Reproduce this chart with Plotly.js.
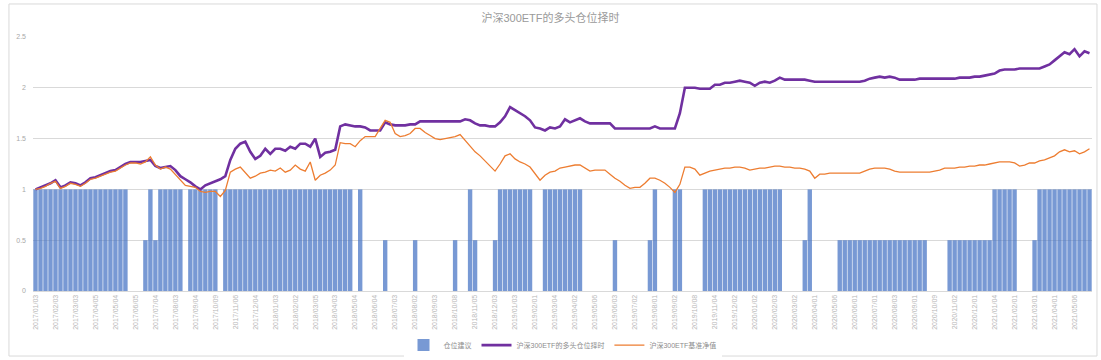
<!DOCTYPE html>
<html>
<head>
<meta charset="utf-8">
<script src="https://cdn.plot.ly/plotly-3.0.1.min.js"></script>
<style>html,body{margin:0;padding:0;background:#fff;}#chart{width:1101px;height:360px;}</style>
</head>
<body>
<div id="chart"></div>
<script>
// Tick labels (one every 4 observations)
var tickLabels = [
"2017/01/03","2017/02/03","2017/03/03","2017/04/05","2017/05/04","2017/06/05","2017/07/04","2017/08/03","2017/09/04","2017/10/09",
"2017/11/06","2017/12/04","2018/01/03","2018/02/02","2018/03/05","2018/04/03","2018/05/04","2018/06/04","2018/07/03","2018/08/02",
"2018/09/03","2018/10/08","2018/11/05","2018/12/03","2019/01/03","2019/02/01","2019/03/04","2019/04/02","2019/05/06","2019/06/03",
"2019/07/02","2019/08/01","2019/09/02","2019/10/08","2019/11/04","2019/12/02","2020/01/02","2020/02/03","2020/03/02","2020/04/01",
"2020/05/06","2020/06/01","2020/07/01","2020/08/03","2020/09/01","2020/10/09","2020/11/02","2020/12/01","2021/01/04","2021/02/01",
"2021/03/01","2021/04/01","2021/05/06"
];

var positionSuggestion = [
1,1,1,1,1,1,1,1,1,1,1,1,1,1,1,1,1,1,1,
0,0,0,0.5,1,0.5,1,1,1,1,1,0,1,1,1,1,1,1,0,
1,1,1,1,1,1,1,1,1,1,1,1,1,1,1,1,1,1,1,1,1,1,1,1,1,1,
0,1,0,0,0,0,0.5,0,0,0,0,0,0.5,0,0,0,0,0,0,0,0.5,0,0,1,0.5,0,0,0,0.5,
1,1,1,1,1,1,1,0,0,1,1,1,1,1,1,1,1,
0,0,0,0,0,0,0.5,0,0,0,0,0,0,0.5,1,0,0,0,1,1,0,0,0,0,
1,1,1,1,1,1,1,1,1,1,1,1,1,1,1,1,
0,0,0,0,0.5,1,0,0,0,0,0,
0.5,0.5,0.5,0.5,0.5,0.5,0.5,0.5,0.5,0.5,0.5,0.5,0.5,0.5,0.5,0.5,0.5,0.5,
0,0,0,0,0.5,0.5,0.5,0.5,0.5,0.5,0.5,0.5,0.5,
1,1,1,1,1,0,0,0,0.5,1,1,1,1,1,1,1,1,1,1,1
];

var strategyNav = [
1.00,1.02,1.04,1.06,1.09,1.02,1.04,1.07,1.06,1.04,1.07,1.11,1.12,1.14,1.16,1.18,1.19,1.22,1.25,1.27,
1.27,1.27,1.28,1.29,1.23,1.21,1.22,1.23,1.19,1.13,1.10,1.07,1.03,1.00,1.04,1.06,1.08,1.10,1.13,1.29,
1.40,1.45,1.47,1.37,1.30,1.33,1.40,1.35,1.40,1.40,1.38,1.42,1.40,1.45,1.45,1.42,1.50,1.32,1.36,1.37,
1.39,1.62,1.64,1.63,1.62,1.62,1.61,1.58,1.58,1.58,1.66,1.64,1.63,1.63,1.63,1.64,1.64,1.67,
1.67,1.67,1.67,1.67,1.67,1.67,1.67,1.67,
1.69,1.68,1.65,1.63,1.63,1.62,1.62,1.66,1.72,1.81,1.78,1.75,1.72,1.68,1.61,1.60,1.58,1.61,1.60,1.62,
1.69,1.66,1.68,1.70,1.67,
1.65,1.65,1.65,1.65,1.65,
1.60,1.60,1.60,1.60,1.60,1.60,1.60,1.60,
1.62,1.60,1.60,1.60,1.60,1.75,
2.00,2.00,2.00,1.99,1.99,1.99,
2.03,2.03,2.05,2.05,2.06,2.07,2.06,2.05,2.02,2.05,2.06,2.05,2.07,2.10,
2.08,2.08,2.08,2.08,2.08,2.07,
2.06,2.06,2.06,2.06,2.06,2.06,2.06,2.06,2.06,2.06,
2.07,2.09,2.10,2.11,2.10,2.11,2.10,
2.08,2.08,2.08,2.08,2.09,2.09,2.09,2.09,2.09,2.09,
2.09,2.09,2.10,2.10,2.10,2.11,2.11,2.12,2.13,2.14,2.17,2.18,
2.18,2.18,2.19,2.19,2.19,2.19,2.19,
2.21,2.23,2.27,2.31,2.35,2.33,2.38,2.31,2.36,2.34
];

var benchmarkNav = [
1.00,1.01,1.03,1.06,1.08,1.01,1.03,1.06,1.05,1.03,1.06,1.10,1.11,1.13,1.15,1.17,1.18,1.21,1.24,1.26,
1.26,1.25,1.27,1.32,1.24,1.20,1.22,1.20,1.15,1.09,1.04,1.03,1.02,0.98,0.97,0.98,0.98,0.93,0.99,1.17,
1.20,1.22,1.17,1.11,1.13,1.16,1.17,1.19,1.18,1.21,1.17,1.19,1.24,1.20,1.18,1.27,1.09,1.14,1.16,1.19,
1.24,1.46,1.45,1.45,1.42,1.48,1.52,1.52,1.52,1.60,1.68,1.66,1.55,1.52,1.53,1.55,1.60,1.60,1.56,1.53,
1.50,1.49,1.50,1.51,1.52,1.54,1.48,1.42,1.37,1.33,1.28,1.22,1.18,1.25,1.33,1.35,1.30,1.27,1.25,1.22,
1.16,1.09,1.14,1.17,1.18,1.21,1.22,1.23,1.24,1.24,1.21,1.18,1.19,1.19,1.19,1.15,1.11,1.08,1.04,1.01,
1.02,1.02,1.06,1.11,1.11,1.09,1.06,1.02,0.97,1.05,1.22,1.22,1.20,1.14,1.16,1.18,1.19,1.20,1.21,1.21,
1.22,1.22,1.21,1.19,1.20,1.21,1.21,1.22,1.23,1.23,1.22,1.22,1.21,1.21,1.20,1.18,1.11,1.15,1.15,1.16,
1.16,1.16,1.16,1.16,1.16,1.16,
1.18,1.20,1.21,1.21,1.21,1.20,1.18,
1.17,1.17,1.17,1.17,1.17,1.17,1.17,
1.18,1.19,1.21,1.21,1.21,1.22,1.22,1.23,1.23,1.24,1.24,1.25,1.26,1.27,1.27,1.27,1.26,1.23,1.24,1.26,
1.26,1.28,1.29,1.31,1.33,1.37,1.39,1.37,1.38,1.35,1.37,1.40
];

var seriesNames = ["仓位建议", "沪深300ETF的多头仓位择时", "沪深300ETF基准净值"];

var idx = positionSuggestion.map(function(_, i){ return i; });
var tickIdx = tickLabels.map(function(_, k){ return k * 4; });

var font = 'Liberation Sans, "Noto Sans CJK SC", sans-serif';

var traces = [
  {type:'bar', x: idx, y: positionSuggestion, name: seriesNames[0],
   marker:{color:'rgba(68,114,196,0.72)', line:{width:0}}, hoverinfo:'skip'},
  {type:'scatter', mode:'lines', x: idx, y: strategyNav, name: seriesNames[1],
   line:{color:'#7030A0', width:2.6}},
  {type:'scatter', mode:'lines', x: idx, y: benchmarkNav, name: seriesNames[2],
   line:{color:'#ED7D31', width:1.3}}
];

var layout = {
  width:1101, height:360,
  margin:{l:33, r:9, t:37, b:69, autoexpand:false},
  paper_bgcolor:'#ffffff', plot_bgcolor:'#ffffff',
  font:{family:font, color:'#8c8c8c', size:8},
  title:{text:'沪深300ETF的多头仓位择时', x:0.5, xanchor:'center', y:0.95, yanchor:'middle',
         font:{family:font, size:11, color:'#9a9a9a'}},
  bargap:0.12,
  showlegend:true,
  legend:{orientation:'h', x:0.5, xanchor:'center', y:-0.213, yanchor:'middle',
          font:{size:7, color:'#8c8c8c'}, tracegroupgap:0},
  xaxis:{automargin:false, range:[-0.5, positionSuggestion.length-0.5], tickmode:'array', tickvals: tickIdx, ticktext: tickLabels,
         tickangle:-90, tickfont:{size:7, color:'#b8b8b8'}, showgrid:false, zeroline:false,
         showline:true, linecolor:'#d9d9d9', linewidth:1, ticks:'', fixedrange:true},
  yaxis:{automargin:false, range:[0,2.5], tickvals:[0,0.5,1,1.5,2,2.5], ticktext:['0','0.5','1','1.5','2','2.5'],
         tickfont:{size:7, color:'#a8a8a8'}, showgrid:true, gridcolor:'#d9d9d9', gridwidth:1,
         zeroline:false, showline:false, ticks:'', ticklabelstandoff:6, fixedrange:true},
  shapes:[{type:'rect', xref:'paper', yref:'paper', x0:-0.0227, x1:1.0047, y0:-0.256, y1:1.13,
           line:{color:'#d9d9d9', width:1}, fillcolor:'rgba(0,0,0,0)', layer:'below'}]
};

Plotly.newPlot('chart', traces, layout, {displayModeBar:false, staticPlot:true});
</script>
</body>
</html>
